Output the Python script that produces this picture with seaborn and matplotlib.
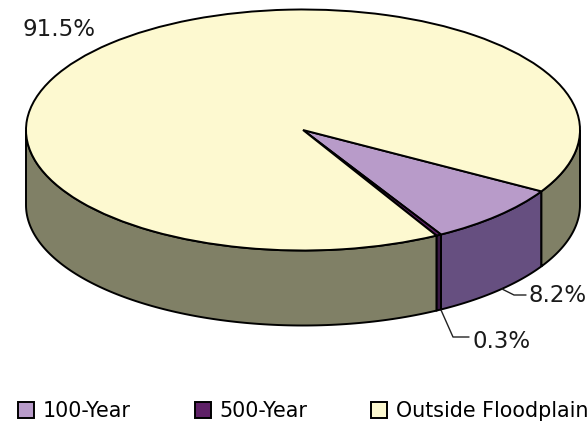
import numpy as np
import matplotlib
matplotlib.use('Agg')
import matplotlib.pyplot as plt
import seaborn as sns

# Data
categories = ['100-Year', '500-Year', 'Outside Floodplain']
values = [8.2, 0.3, 91.5]
labels = ['8.2%', '0.3%', '91.5%']

top_colors = ['#B89BC9', '#5E2066', '#FDF9D0']
wall_colors = ['#664F80', '#3B1A45', '#808066']

sns.set_theme(style='white')
plt.rcParams['font.family'] = ['DejaVu Sans']

W, H = 588, 424
cx, cy, rx, ry, depth = 303, 130, 277, 120.5, 75

fig = plt.figure(figsize=(W / 100, H / 100), dpi=100)
ax = fig.add_axes([0, 0, 1, 1])

start = -30.6

# pie is on a unit circle, squash it into an ellipse with the axes limits
wedges, _ = ax.pie(values, colors=top_colors, startangle=start, counterclock=False,
                   wedgeprops={'edgecolor': 'black', 'linewidth': 1.4, 'zorder': 3})
ax.set_aspect('auto')
ax.set_xlim(-cx / rx, (W - cx) / rx)
ax.set_ylim(-(H - cy) / ry, cy / ry)
ax.set_axis_off()

# Side wall of the pie, front half only
d = depth / ry
edges = start - np.cumsum([0] + values) * 3.6
for i in range(len(values)):
    a1, a0 = edges[i], edges[i + 1]
    for lo, hi in [(a0, a1), (a0 + 360, a1 + 360)]:
        lo, hi = max(lo, -180), min(hi, 0)
        if lo >= hi:
            continue
        t = np.radians(np.linspace(lo, hi, 120))
        xs = np.concatenate([np.cos(t), np.cos(t[::-1])])
        ys = np.concatenate([np.sin(t) - d, np.sin(t[::-1])])
        ax.fill(xs, ys, facecolor=wall_colors[i], edgecolor='black', linewidth=1.4, zorder=2)

# Labels and leader lines
lab_kw = {'fontsize': 16.5, 'color': '#1a1a1a', 'va': 'center', 'transform': fig.transFigure}
fig.text(23 / W, 1 - 30 / H, labels[2], ha='left', **lab_kw)
fig.text(528 / W, 1 - 296 / H, labels[0], ha='left', **lab_kw)
fig.text(473 / W, 1 - 341 / H, labels[1], ha='left', **lab_kw)
for px, py in [([502, 514, 526], [289, 295, 295]), ([441, 453, 469], [310, 337, 337])]:
    fig.add_artist(plt.Line2D(np.array(px) / W, 1 - np.array(py) / H, color='#222222', linewidth=1.0))

# Legend
leg = fig.legend(wedges, categories, ncol=3, frameon=False, fontsize=14.9,
                 loc='lower left', bbox_to_anchor=(18 / W, 1 - 421 / H),
                 bbox_transform=fig.transFigure, borderpad=0, borderaxespad=0,
                 handlelength=0.77, handleheight=0.77, handletextpad=0.41, columnspacing=3.1)
for t in leg.get_texts():
    t.set_color('black')

plt.savefig('out.png', dpi=100)
